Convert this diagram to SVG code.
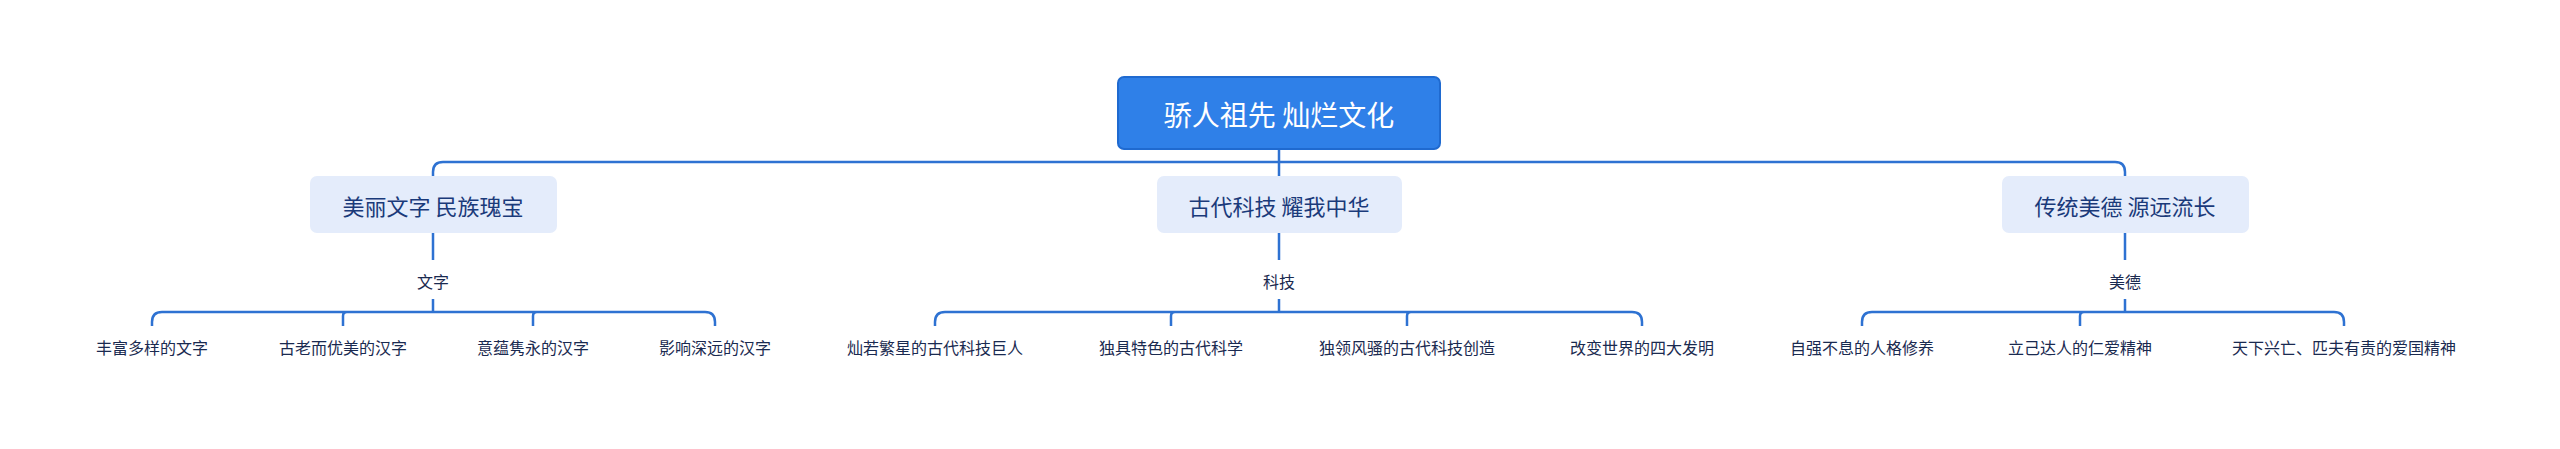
<svg xmlns="http://www.w3.org/2000/svg" width="2560" height="449" viewBox="0 0 2560 449">
<style>
text{font-family:"Noto Sans CJK SC","Noto Sans",sans-serif;text-anchor:middle;dominant-baseline:central}
.root{fill:#2f80e8;stroke:#1f6ad0;stroke-width:2}
.l1{fill:#e4ecfb}
.t1{font-size:22px;fill:#1a3a7a}
.lf{font-size:16px;fill:#1a2a50}
.c{fill:none;stroke:#2e72d2;stroke-width:2.5}
</style>
<rect width="2560" height="449" fill="#fff"/>
<g id="connectors">
<path class="c" d="M1279 150V162M443 162H2115M433 176V172Q433 162 443 162M2125 176V172Q2125 162 2115 162M1279 162V176"/>
<path class="c" d="M433 233V260M433 299V312M162 312H705M152 326V322Q152 312 162 312M715 326V322Q715 312 705 312M343 326V316Q343 312 347 312M533 326V316Q533 312 537 312"/>
<path class="c" d="M1279 233V260M1279 299V312M945 312H1632M935 326V322Q935 312 945 312M1642 326V322Q1642 312 1632 312M1171 326V316Q1171 312 1175 312M1407 326V316Q1407 312 1411 312"/>
<path class="c" d="M2125 233V260M2125 299V312M1872 312H2334M1862 326V322Q1862 312 1872 312M2344 326V322Q2344 312 2334 312M2080 326V316Q2080 312 2084 312"/>
</g>
<g id="root"><rect class="root" x="1118" y="77" width="322" height="72" rx="6"/><text x="1279" y="114" font-size="28" fill="#fff">骄人祖先 灿烂文化</text></g>
<g id="n1"><rect class="l1" x="310" y="176" width="247" height="57" rx="7"/><text class="t1" x="433" y="205">美丽文字 民族瑰宝</text></g>
<g id="n2"><rect class="l1" x="1157" y="176" width="245" height="57" rx="7"/><text class="t1" x="1279" y="205">古代科技 耀我中华</text></g>
<g id="n3"><rect class="l1" x="2002" y="176" width="247" height="57" rx="7"/><text class="t1" x="2125" y="205">传统美德 源远流长</text></g>
<g id="labels"><text class="lf" x="433" y="281">文字</text><text class="lf" x="1279" y="281">科技</text><text class="lf" x="2125" y="281">美德</text></g>
<g id="leaves">
<text class="lf" x="152" y="347">丰富多样的文字</text>
<text class="lf" x="343" y="347">古老而优美的汉字</text>
<text class="lf" x="533" y="347">意蕴隽永的汉字</text>
<text class="lf" x="715" y="347">影响深远的汉字</text>
<text class="lf" x="935" y="347">灿若繁星的古代科技巨人</text>
<text class="lf" x="1171" y="347">独具特色的古代科学</text>
<text class="lf" x="1407" y="347">独领风骚的古代科技创造</text>
<text class="lf" x="1642" y="347">改变世界的四大发明</text>
<text class="lf" x="1862" y="347">自强不息的人格修养</text>
<text class="lf" x="2080" y="347">立己达人的仁爱精神</text>
<text class="lf" x="2344" y="347">天下兴亡、匹夫有责的爱国精神</text>
</g>
</svg>
